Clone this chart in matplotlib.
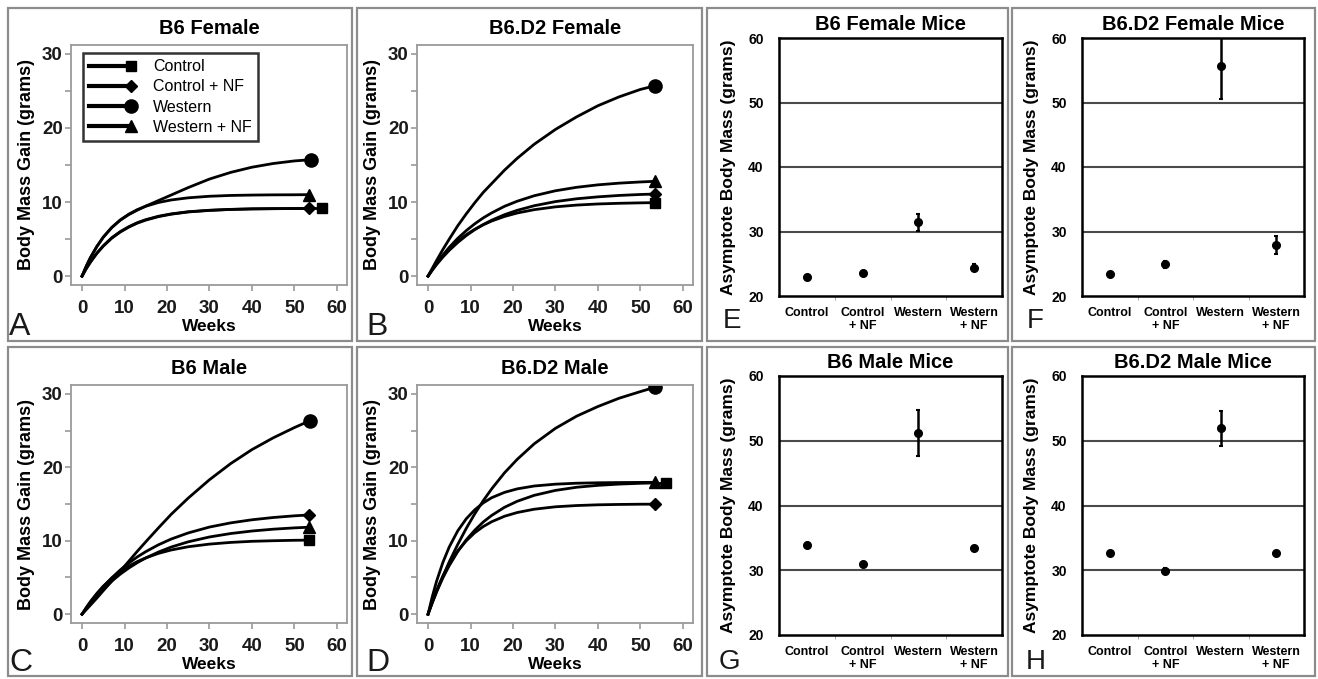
import numpy as np
import matplotlib
matplotlib.use("Agg")
import matplotlib.pyplot as plt
from matplotlib.legend_handler import HandlerLine2D
from matplotlib.patches import Rectangle

plt.rcParams['font.family'] = ['Liberation Sans', 'DejaVu Sans']

# --- growth curves (weeks vs body mass gain, grams) ---
weeks = [0, 1, 2, 3.5, 5, 7, 9, 11, 13, 15, 18, 21, 25, 30, 35, 40, 45, 50, 53.5]
diets = ['Control', 'Control + NF', 'Western', 'Western + NF']
diet_markers = ['s', 'D', 'o', '^']
marker_sizes = [7, 6, 9.5, 8.5]

# B6 Female
b6f_control = [0, 1.01, 1.90, 3.07, 4.04, 5.12, 5.95, 6.61, 7.15, 7.56, 8.03, 8.36, 8.66, 8.87,
               9.0, 9.07, 9.1, 9.12, 9.13]
b6f_control_nf = [0, 1.03, 1.94, 3.12, 4.10, 5.18, 6.01, 6.67, 7.21, 7.62, 8.08, 8.40, 8.69, 8.89,
                  9.01, 9.08, 9.11, 9.13, 9.14]
b6f_western = [0, 1.34, 2.52, 4.0, 5.25, 6.55, 7.55, 8.3, 8.9, 9.45, 10.2, 10.95, 11.95, 13.1,
               14.0, 14.7, 15.2, 15.55, 15.7]
b6f_western_nf = [0, 1.34, 2.52, 4.01, 5.26, 6.57, 7.58, 8.36, 8.97, 9.43, 9.94, 10.28, 10.57,
                  10.78, 10.89, 10.94, 10.97, 10.98, 11.0]
b6f_end = [56.4, 53.5, 54.0, 53.5]

# B6.D2 Female
b6d2f_control = [0, 0.87, 1.66, 2.73, 3.65, 4.71, 5.59, 6.32, 6.93, 7.44, 8.05, 8.52, 8.97, 9.35,
                 9.59, 9.74, 9.83, 9.89, 9.92]
b6d2f_control_nf = [0, 0.80, 1.55, 2.57, 3.48, 4.54, 5.47, 6.27, 6.96, 7.55, 8.29, 8.88, 9.50,
                    10.06, 10.44, 10.70, 10.89, 11.02, 11.08]
b6d2f_western = [0, 1.05, 2.1, 3.6, 5.0, 6.8, 8.4, 9.9, 11.3, 12.5, 14.3, 15.9, 17.8, 19.8,
                 21.5, 23.0, 24.2, 25.2, 25.7]
b6d2f_western_nf = [0, 0.89, 1.72, 2.86, 3.89, 5.10, 6.14, 7.06, 7.86, 8.54, 9.42, 10.11, 10.85,
                    11.52, 11.99, 12.32, 12.55, 12.71, 12.80]
b6d2f_end = [53.5, 53.5, 53.5, 53.5]

# B6 Male
b6m_control = [0, 0.91, 1.74, 2.84, 3.81, 4.89, 5.79, 6.54, 7.16, 7.66, 8.28, 8.74, 9.18, 9.54,
               9.77, 9.92, 10.0, 10.06, 10.08]
b6m_control_nf = [0, 0.85, 1.65, 2.75, 3.75, 4.95, 6.02, 6.96, 7.79, 8.51, 9.45, 10.23, 11.06,
                  11.86, 12.43, 12.85, 13.16, 13.39, 13.51]
b6m_western = [0, 0.62, 1.25, 2.2, 3.2, 4.5, 5.85, 7.2, 8.55, 9.85, 11.75, 13.6, 15.8, 18.3,
               20.5, 22.4, 24.0, 25.4, 26.3]
b6m_western_nf = [0, 0.78, 1.50, 2.51, 3.41, 4.50, 5.45, 6.28, 7.01, 7.65, 8.46, 9.14, 9.85,
                  10.51, 10.98, 11.32, 11.57, 11.75, 11.84]
b6m_end = [53.5, 53.5, 53.8, 53.5]

# B6.D2 Male
b6d2m_control = [0, 1.58, 3.02, 4.95, 6.62, 8.53, 10.12, 11.43, 12.55, 13.45, 14.55, 15.37, 16.18,
                 16.85, 17.28, 17.54, 17.71, 17.82, 17.87]
b6d2m_control_nf = [0, 1.72, 3.24, 5.20, 6.85, 8.62, 9.99, 11.09, 11.93, 12.59, 13.33, 13.84,
                    14.29, 14.62, 14.79, 14.89, 14.94, 14.97, 14.98]
b6d2m_western = [0, 1.56, 3.05, 5.16, 7.13, 9.50, 11.68, 13.66, 15.45, 17.07, 19.24, 21.08, 23.19,
                 25.30, 26.96, 28.27, 29.4, 30.3, 30.9]
b6d2m_western_nf = [0, 2.39, 4.47, 7.06, 9.16, 11.35, 12.99, 14.21, 15.15, 15.86, 16.58, 17.06,
                    17.45, 17.70, 17.83, 17.89, 17.92, 17.94, 17.95]
b6d2m_end = [56.0, 53.5, 53.5, 53.5]

# --- asymptote body mass (grams) with error bars ---
groups = ['Control', 'Control\n+ NF', 'Western', 'Western\n+ NF']
b6f_asym = [22.9, 23.6, 31.4, 24.4]
b6f_err = [0.3, 0.3, 1.3, 0.5]
b6d2f_asym = [23.4, 24.9, 55.7, 27.9]
b6d2f_err = [0.3, 0.5, 5.1, 1.4]
b6m_asym = [33.9, 30.9, 51.2, 33.4]
b6m_err = [0.3, 0.4, 3.6, 0.4]
b6d2m_asym = [32.6, 29.9, 51.9, 32.6]
b6d2m_err = [0.3, 0.4, 2.7, 0.3]

W, H = 1318, 679
fig = plt.figure(figsize=(W / 100, H / 100), dpi=100)


def px_axes(left, top, right, bottom):
    return fig.add_axes([left / W, 1 - bottom / H, (right - left) / W, (bottom - top) / H])


class EndMarker(HandlerLine2D):
    # legend entry with the marker at the right end of the line
    def create_artists(self, *args, **kwargs):
        arts = super().create_artists(*args, **kwargs)
        for a in arts:
            a.set_markevery([2])
        return arts


def growth_panel(ax, title, series, ends, legend=False):
    for vals, end, mk, ms, name in zip(series, ends, diet_markers, marker_sizes, diets):
        ax.plot(weeks, vals, color='black', lw=2)
        ax.plot([weeks[-1], end], [vals[-1], vals[-1]], color='black', lw=2,
                marker=mk, ms=ms, markevery=[1], label=name)
    ax.set_xlim(-2.6, 62.4)
    ax.set_ylim(-1.2, 31.2)
    ax.set_xticks(range(0, 61, 10))
    ax.set_yticks([0, 10, 20, 30])
    ax.set_yticks([5, 15, 25], minor=True)
    for s in ax.spines.values():
        s.set_color('#9a9a9a')
        s.set_linewidth(1.3)
    ax.tick_params(colors='#9a9a9a', labelcolor='#1a1a1a', width=1.2, length=4, pad=2)
    ax.tick_params(axis='y', which='minor', colors='#9a9a9a', width=1.2, length=4)
    ax.tick_params(axis='x', pad=6.5)
    for lab in ax.get_xticklabels() + ax.get_yticklabels():
        lab.set_fontsize(13.5)
        lab.set_fontweight('bold')
    ax.set_title(title, fontsize=14.5, fontweight='bold', pad=8)
    ax.set_xlabel('Weeks', fontsize=12.5, fontweight='bold', labelpad=1.5)
    ax.set_ylabel('Body Mass Gain (grams)', fontsize=13, fontweight='bold', labelpad=5)
    if legend:
        leg = ax.legend(loc='upper left', bbox_to_anchor=(0.043, 0.967), borderaxespad=0,
                        handler_map={plt.Line2D: EndMarker()}, fontsize=11.5,
                        fancybox=False, handlelength=2.6, handletextpad=1.4,
                        labelspacing=0.32, borderpad=0.4, numpoints=1)
        leg.get_frame().set_edgecolor('black')
        leg.get_frame().set_linewidth(1.8)
        for h in leg.get_lines():
            h.set_linewidth(3)


def asym_panel(ax, title, vals, errs):
    x = np.arange(len(groups))
    for yv in [30, 40, 50]:
        ax.axhline(yv, color='#4a4a4a', lw=1.5, zorder=1)
    ax.errorbar(x, vals, yerr=errs, fmt='o', color='black', ms=5.5,
                elinewidth=1.8, capsize=1.5, capthick=1.5, zorder=3)
    ax.set_xlim(-0.5, 3.5)
    ax.set_ylim(20, 60)
    ax.set_yticks([20, 30, 40, 50, 60])
    ax.set_xticks(x)
    ax.set_xticklabels(groups, fontsize=9, fontweight='bold', linespacing=1.05)
    ax.set_xticks([0.5, 1.5, 2.5], minor=True)
    ax.tick_params(axis='x', which='major', length=0, pad=8)
    ax.tick_params(axis='x', which='minor', length=3, color='#9a9a9a')
    ax.tick_params(axis='y', length=0, pad=11)
    for lab in ax.get_yticklabels():
        lab.set_fontsize(10)
        lab.set_fontweight('bold')
    for s in ax.spines.values():
        s.set_color('black')
        s.set_linewidth(1.8)
    ax.set_title(title, fontsize=14.5, fontweight='bold', pad=6)
    ax.set_ylabel('Asymptote Body Mass (grams)', fontsize=12.5, fontweight='bold', labelpad=9)


axA = px_axes(71, 45, 347, 285)
axB = px_axes(417, 45, 693, 285)
axC = px_axes(71, 385, 347, 623)
axD = px_axes(417, 385, 693, 623)
axE = px_axes(779, 38, 1002, 296)
axF = px_axes(1082, 38, 1304, 296)
axG = px_axes(779, 376, 1002, 635)
axH = px_axes(1082, 376, 1304, 635)

growth_panel(axA, 'B6 Female', [b6f_control, b6f_control_nf, b6f_western, b6f_western_nf],
             b6f_end, legend=True)
growth_panel(axB, 'B6.D2 Female', [b6d2f_control, b6d2f_control_nf, b6d2f_western, b6d2f_western_nf],
             b6d2f_end)
growth_panel(axC, 'B6 Male', [b6m_control, b6m_control_nf, b6m_western, b6m_western_nf], b6m_end)
growth_panel(axD, 'B6.D2 Male', [b6d2m_control, b6d2m_control_nf, b6d2m_western, b6d2m_western_nf],
             b6d2m_end)

asym_panel(axE, 'B6 Female Mice', b6f_asym, b6f_err)
asym_panel(axF, 'B6.D2 Female Mice', b6d2f_asym, b6d2f_err)
asym_panel(axG, 'B6 Male Mice', b6m_asym, b6m_err)
asym_panel(axH, 'B6.D2 Male Mice', b6d2m_asym, b6d2m_err)

# gray panel frames
frames = [(8, 8, 352, 341), (357, 8, 702, 341), (707, 8, 1008, 341), (1012, 8, 1315, 341),
          (8, 347, 352, 676), (357, 347, 702, 676), (707, 347, 1008, 676), (1012, 347, 1315, 676)]
for l, t, r, b in frames:
    fig.add_artist(Rectangle((l / W, 1 - b / H), (r - l) / W, (b - t) / H,
                             transform=fig.transFigure, fill=False,
                             edgecolor='#8c8c8c', lw=1.6))

# panel letters
letters = [('A', 9, 335, 23), ('B', 366, 335, 23), ('C', 9, 671, 23), ('D', 366, 671, 23),
           ('E', 723, 328, 20), ('F', 1027, 328, 20), ('G', 719, 669, 20), ('H', 1026, 669, 20)]
for txt, lx, ly, fs in letters:
    fig.text(lx / W, 1 - ly / H, txt, fontsize=fs, ha='left', va='baseline',
             color='#1a1a1a', fontweight='light')

fig.savefig('out.png', dpi=100)
